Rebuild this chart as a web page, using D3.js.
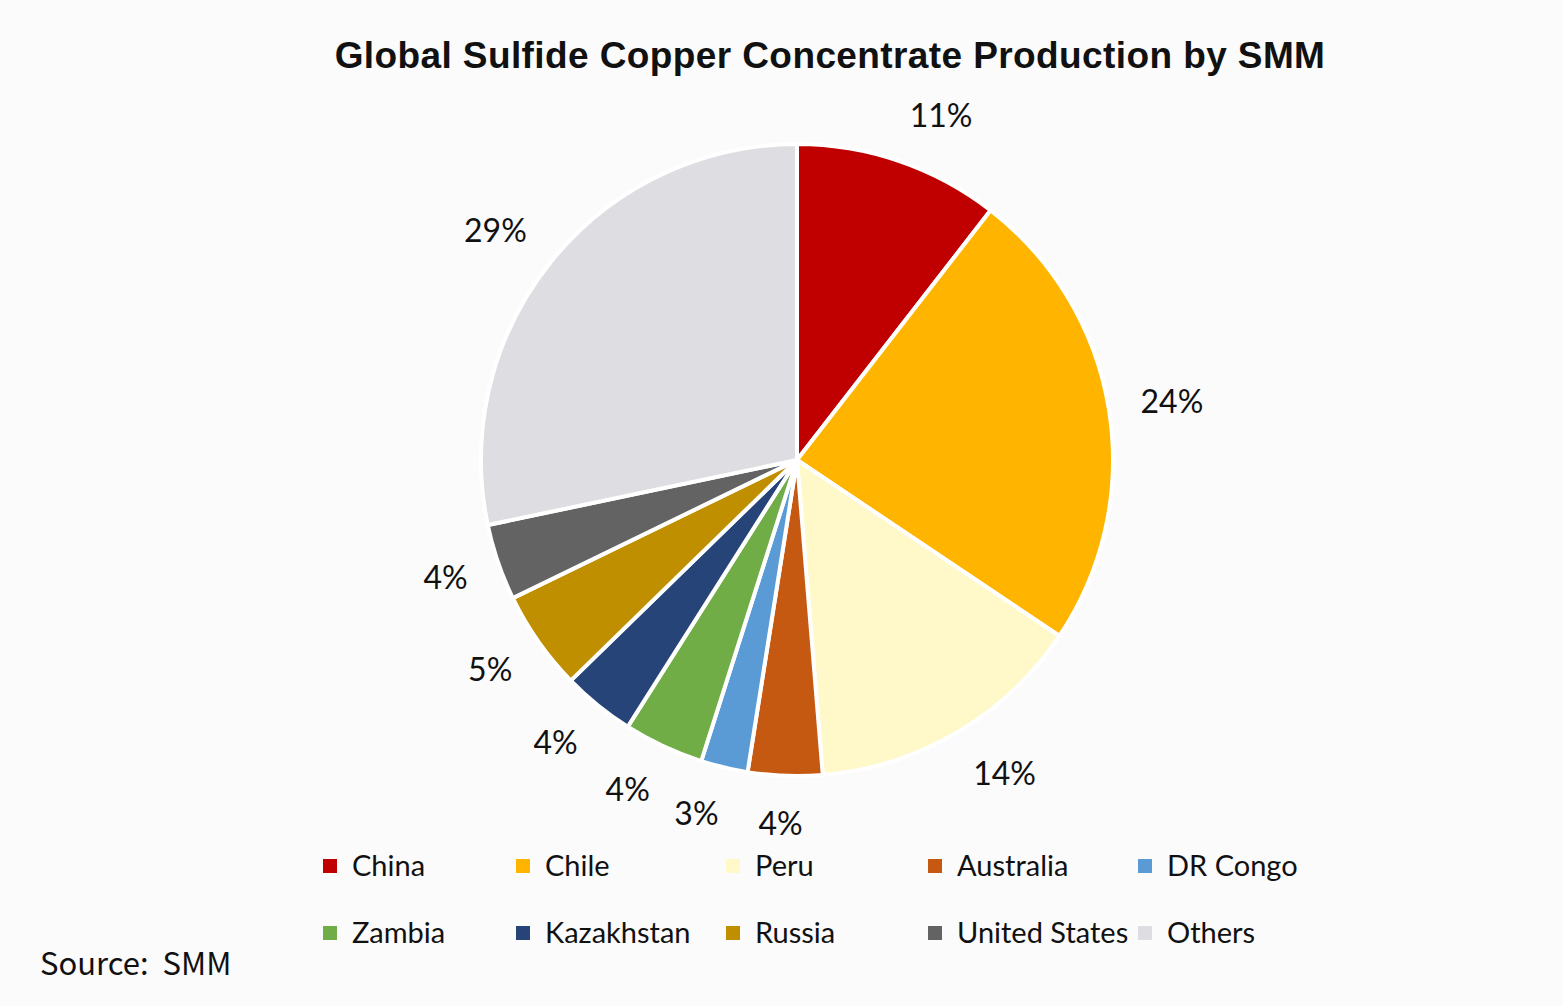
<!DOCTYPE html>
<html>
<head>
<meta charset="utf-8">
<script src="https://cdn.jsdelivr.net/npm/d3@7"></script>
<style>
  html, body { margin: 0; padding: 0; background: #fbfbfb; }
  #chart { width: 1563px; height: 1006px; }
</style>
</head>
<body>
<div id="chart"></div>
<script>
// Share of global sulfide copper concentrate output
const countries = ["China", "Chile", "Peru", "Australia", "DR Congo",
                   "Zambia", "Kazakhstan", "Russia", "United States", "Others"];
const shares    = [10.5, 23.9, 14.3, 3.8, 2.4, 4.1, 3.7, 5.1, 3.9, 28.3];
const labels    = ["11%", "24%", "14%", "4%", "3%", "4%", "4%", "5%", "4%", "29%"];
const colors    = ["#c00000", "#ffb400", "#fff8c8", "#c65911", "#5b9bd5",
                   "#70ad47", "#264478", "#bf8f00", "#636363", "#dedee2"];

const W = 1563, H = 1006;
const cx = 797, cy = 460, R = 316;
const LABEL_GAP = 32, LABEL_FS = 32;

const svg = d3.select("#chart").append("svg")
    .attr("width", W).attr("height", H)
    .attr("display", "block");

svg.append("rect").attr("width", W).attr("height", H).attr("fill", "#fbfbfb");

// Title
svg.append("text")
    .attr("x", 830).attr("y", 68)
    .attr("text-anchor", "middle")
    .attr("font-family", "'Liberation Sans', Arial, sans-serif")
    .attr("font-weight", "bold")
    .attr("font-size", 37)
    .attr("letter-spacing", 0.4)
    .attr("fill", "#111")
    .text("Global Sulfide Copper Concentrate Production by SMM");

const data = countries.map((c, i) => ({ name: c, value: shares[i], label: labels[i], color: colors[i] }));

const pie = d3.pie().sort(null).value(d => d.value);
const arc = d3.arc().innerRadius(0).outerRadius(R);
const arcs = pie(data);

const g = svg.append("g").attr("transform", `translate(${cx},${cy})`);

g.selectAll(".slice")
    .data(arcs).enter()
    .append("path").attr("class", "slice")
    .attr("d", arc)
    .attr("fill", d => d.data.color)
    .attr("stroke", "#ffffff")
    .attr("stroke-width", 4)
    .attr("stroke-linejoin", "round");

// Percentage labels: outside end, box pushed away from the rim (Excel-like)
g.selectAll(".pct")
    .data(arcs).enter()
    .append("text").attr("class", "pct")
    .attr("text-anchor", "middle")
    .attr("dy", "0.35em")
    .attr("font-family", "Lato, 'Open Sans', sans-serif")
    .attr("font-size", LABEL_FS)
    .attr("fill", "#111")
    .text(d => d.data.label)
    .each(function(d) {
        const a = (d.startAngle + d.endAngle) / 2;
        const s = Math.sin(a), c = Math.cos(a);
        const w = this.getComputedTextLength();
        const r = R + LABEL_GAP;
        const x = r * s + (w / 2) * Math.max(-1, Math.min(1, 4 * s));
        const y = -r * c - (LABEL_FS / 2) * c;
        d3.select(this).attr("x", x).attr("y", y);
    });

// Legend: two rows of five
const colX = [330, 523, 733, 935, 1145];
const rowY = [866, 933];

const legend = svg.selectAll(".legend")
    .data(data).enter()
    .append("g").attr("class", "legend")
    .attr("transform", (d, i) => `translate(${colX[i % 5]},${rowY[Math.floor(i / 5)]})`);

legend.append("rect")
    .attr("x", -7).attr("y", -7)
    .attr("width", 14).attr("height", 14)
    .attr("fill", d => d.color);

legend.append("text")
    .attr("x", 22).attr("dy", "0.35em")
    .attr("font-family", "Lato, 'Open Sans', sans-serif")
    .attr("font-size", 29)
    .attr("fill", "#111")
    .text(d => d.name);

// Source note
svg.append("text")
    .attr("x", 40).attr("y", 975)
    .attr("font-family", "'Noto Sans CJK SC', 'Noto Sans', sans-serif")
    .attr("font-size", 31)
    .attr("fill", "#111")
    .style("white-space", "pre")
    .text("Source:  SMM");
</script>
</body>
</html>
